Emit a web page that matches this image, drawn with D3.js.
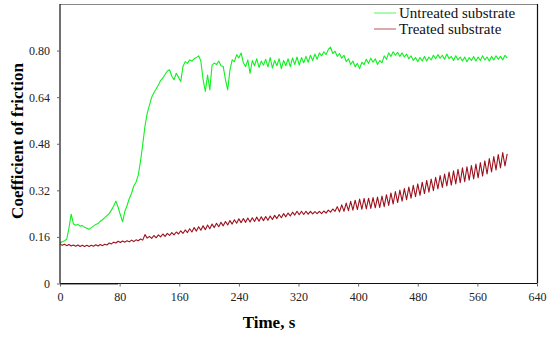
<!DOCTYPE html>
<html>
<head>
<meta charset="utf-8">
<script src="https://cdn.jsdelivr.net/npm/d3@7"></script>
<style>
  body { margin: 0; background: #fff; }
  svg { display: block; font-family: "Liberation Serif", "Times New Roman", serif; }
</style>
</head>
<body>
<svg id="chart" width="550" height="338"></svg>
<script>
// sampling step of both traces, seconds
var timeStep = 3;

var xTicks = [0, 80, 160, 240, 320, 400, 480, 560, 640];
var yTicks = [0, 0.16, 0.32, 0.48, 0.64, 0.80];

var seriesNames = ["Untreated substrate", "Treated substrate"];

// untreated substrate, every 3 s
var untreated = [
  .140, .143, .147, .152, .190, .238, .205, .200, .203, .197,
  .199, .193, .190, .186, .192, .197, .203, .206, .214, .219,
  .226, .233, .241, .252, .266, .283, .262, .236, .212, .248,
  .268, .292, .310, .335, .348, .372, .420, .478, .540, .585,
  .612, .640, .655, .668, .682, .697, .706, .718, .730, .734,
  .712, .700, .722, .708, .694, .745, .762, .756, .768, .764,
  .772, .776, .782, .764, .700, .660, .716, .665, .750, .757,
  .752, .764, .748, .745, .700, .665, .733, .768, .762, .786,
  .775, .792, .758, .745, .768, .722, .766, .748, .772, .742,
  .764, .750, .770, .744, .776, .740, .766, .748, .772, .738,
  .766, .748, .772, .745, .775, .752, .778, .750, .776, .758,
  .780, .760, .784, .766, .788, .770, .792, .782, .796, .786,
  .804, .812, .790, .798, .780, .790, .774, .784, .762, .772,
  .752, .764, .744, .756, .738, .760, .752, .770, .756, .774,
  .760, .772, .752, .766, .758, .782, .770, .792, .780, .796,
  .784, .794, .780, .792, .778, .788, .772, .782, .766, .776,
  .762, .776, .764, .780, .764, .778, .768, .784, .772, .786,
  .774, .784, .770, .788, .772, .780, .766, .782, .768, .778,
  .764, .778, .762, .776, .766, .780, .764, .778, .766, .782,
  .768, .778, .764, .780, .768, .782, .770, .780, .768, .784,
  .774
];

// treated substrate, every 3 s (oscillation peaks/troughs)
var treated = [
  .136, .131, .135, .130, .134, .129, .132, .128, .132, .127,
  .131, .127, .131, .127, .131, .128, .133, .129, .134, .130,
  .135, .132, .139, .136, .142, .139, .145, .141, .146, .142,
  .147, .143, .149, .144, .150, .147, .153, .149, .168, .156,
  .162, .155, .165, .157, .167, .160, .170, .162, .172, .165,
  .175, .167, .177, .170, .181, .172, .184, .175, .188, .177,
  .192, .180, .195, .183, .198, .185, .201, .188, .204, .192,
  .207, .195, .210, .198, .213, .201, .216, .204, .219, .207,
  .222, .209, .223, .210, .225, .211, .226, .213, .228, .214,
  .229, .216, .230, .217, .232, .220, .234, .223, .237, .226,
  .240, .229, .242, .232, .245, .235, .248, .236, .248, .237,
  .248, .238, .248, .239, .247, .240, .248, .240, .249, .242,
  .252, .245, .256, .248, .264, .246, .270, .248, .276, .250,
  .282, .252, .286, .254, .290, .255, .292, .256, .293, .258,
  .295, .260, .297, .261, .300, .264, .305, .268, .311, .273,
  .316, .278, .321, .283, .326, .288, .331, .293, .337, .298,
  .342, .303, .348, .309, .354, .314, .359, .319, .365, .325,
  .371, .330, .376, .335, .383, .338, .387, .342, .392, .346,
  .397, .350, .401, .355, .405, .359, .410, .363, .415, .369,
  .421, .376, .429, .383, .436, .390, .443, .397, .450, .404,
  .445
];

// short dark trace lying on the time axis at the start
var zeroTraceTimes = [0, 78];
var zeroTraceValues = [0, 0];

var colors = ["#10f020", "#9c101c"];

var svg = d3.select("#chart");
var plotLeft = 60, plotRight = 537, plotTop = 4, plotBottom = 283.5;

var x = d3.scaleLinear().domain([0, 640]).range([plotLeft, plotRight]);
var y = d3.scaleLinear().domain([0, 0.96]).range([plotBottom, plotTop]);

var line = d3.line()
    .x(function (d, i) { return x(i * timeStep); })
    .y(function (d) { return y(d); });

// frame: light top, dark right
svg.append("line")
    .attr("x1", plotLeft).attr("x2", plotRight).attr("y1", plotTop + 0.5).attr("y2", plotTop + 0.5)
    .attr("stroke", "#888").attr("stroke-width", 1);
svg.append("line")
    .attr("x1", plotRight + 0.5).attr("x2", plotRight + 0.5).attr("y1", plotTop).attr("y2", plotBottom)
    .attr("stroke", "#111").attr("stroke-width", 1.2);

svg.append("path")
    .attr("d", line(untreated))
    .attr("fill", "none")
    .attr("stroke", colors[0])
    .attr("stroke-width", 1.1)
    .attr("stroke-linejoin", "round");

svg.append("path")
    .attr("d", line(treated))
    .attr("fill", "none")
    .attr("stroke", colors[1])
    .attr("stroke-width", 1.1)
    .attr("stroke-linejoin", "round");

svg.append("path")
    .attr("d", d3.line()
        .x(function (d, i) { return x(zeroTraceTimes[i]); })
        .y(function (d) { return y(d) + 0.5; })(zeroTraceValues))
    .attr("stroke", "#333")
    .attr("stroke-width", 1.2);

// axes
var xAxis = svg.append("g")
    .attr("transform", "translate(0," + plotBottom + ")")
    .call(d3.axisBottom(x).tickValues(xTicks).tickSize(3).tickPadding(6)
        .tickFormat(d3.format("d")));

var yAxis = svg.append("g")
    .attr("transform", "translate(" + plotLeft + ",0)")
    .call(d3.axisLeft(y).tickValues(yTicks).tickSize(3).tickPadding(7)
        .tickFormat(function (d) { return d === 0 ? "0" : d3.format(".2f")(d); }));

[xAxis, yAxis].forEach(function (g) {
    g.select(".domain").attr("stroke", "#111").attr("stroke-width", 1.2);
    g.selectAll(".tick line").attr("stroke", "#666");
    g.selectAll(".tick text")
        .attr("fill", "#222")
        .style("font-family", "'Liberation Serif', serif")
        .style("font-size", "12px");
});
xAxis.select(".domain").attr("d", "M" + plotLeft + ",0H" + plotRight);
yAxis.select(".domain").attr("d", "M0," + plotBottom + "V" + plotTop);

// axis titles
svg.append("text")
    .attr("x", 269).attr("y", 328)
    .attr("text-anchor", "middle")
    .style("font-size", "17px").style("font-weight", "bold")
    .text("Time, s");

svg.append("text")
    .attr("transform", "translate(23,141) rotate(-90)")
    .attr("text-anchor", "middle")
    .style("font-size", "17px").style("font-weight", "bold")
    .text("Coefficient of friction");

// legend
var legend = svg.append("g").selectAll("g")
    .data(seriesNames)
    .enter().append("g")
    .attr("transform", function (d, i) { return "translate(374," + (13 + i * 16) + ")"; });

legend.append("line")
    .attr("x1", 0).attr("x2", 22)
    .attr("stroke", function (d, i) { return colors[i]; })
    .attr("stroke-opacity", 0.55)
    .attr("stroke-width", 1.3);

legend.append("text")
    .attr("x", 25).attr("y", 5)
    .style("font-size", "15px")
    .attr("fill", "#111")
    .text(function (d) { return d; });
</script>
</body>
</html>
